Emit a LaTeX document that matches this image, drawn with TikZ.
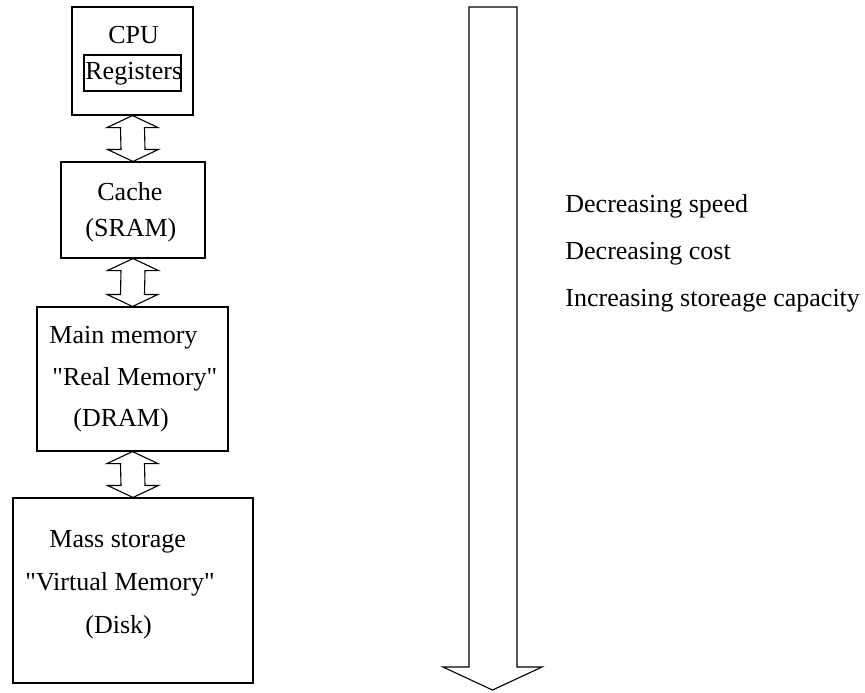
\documentclass[tikz,border=0pt]{standalone}
\usepackage{fontspec}
\setmainfont{Liberation Serif}
\usetikzlibrary{fit,calc}
\begin{document}
\begin{tikzpicture}[x=0.5pt,y=-0.5pt,
  box/.style={draw,line width=0.55pt,inner sep=0pt},
  blk/.style={draw,line width=0.55pt,line join=miter},
  lbl/.style={anchor=base west,inner sep=0pt,font=\fontsize{13}{15}\selectfont}]
\useasboundingbox (0,0) rectangle (865,692);
\newcommand\dblarrow[2]{\draw[blk] (#1.south) -- ([shift={(25.5,12)}]#1.south) -- ([shift={(12,12)}]#1.south) -- ([shift={(12,-12)}]#2.north) -- ([shift={(25.5,-12)}]#2.north) -- (#2.north) -- ([shift={(-25.5,-12)}]#2.north) -- ([shift={(-12,-12)}]#2.north) -- ([shift={(-12,12)}]#1.south) -- ([shift={(-25.5,12)}]#1.south) -- cycle;}
% boxes
\node[box,fit={(72,7) (193,115)}] (cpu) {};
\node[box,fit={(84,55) (181,91)}] (reg) {};
\node[box,fit={(61,162) (205,258)}] (cache) {};
\node[box,fit={(37,307) (228,451)}] (main) {};
\node[box,fit={(13,498) (253,683)}] (mass) {};
% texts
\node[lbl] (tcpu) at (108,43) {CPU};
\node[lbl] (treg) at (85,79) {Registers};
\node[lbl] (tc1) at (97,200) {Cache};
\node[lbl] (tc2) at (85,236) {(SRAM)};
\node[lbl] (tm1) at (49,343) {Main memory};
\node[lbl] (tm2) at (52,385) {\textquotedbl Real Memory\textquotedbl};
\node[lbl] (tm3) at (73,426) {(DRAM)};
\node[lbl] (ts1) at (49,547) {Mass storage};
\node[lbl] (ts2) at (25,590) {\textquotedbl Virtual Memory\textquotedbl};
\node[lbl] (ts3) at (85,633) {(Disk)};
\node[lbl] (r1) at (565,212) {Decreasing speed};
\node[lbl] (r2) at (565,259) {Decreasing cost};
\node[lbl] (r3) at (565,306) {Increasing storeage capacity};
% double arrows
\dblarrow{cpu}{cache}
\dblarrow{cache}{main}
\dblarrow{main}{mass}
% big arrow
\draw[blk] (469,7) -- (517,7) -- (517,667) -- (542,667) -- (492.5,690) -- (443,667) -- (469,667) -- cycle;
\end{tikzpicture}
\end{document}
